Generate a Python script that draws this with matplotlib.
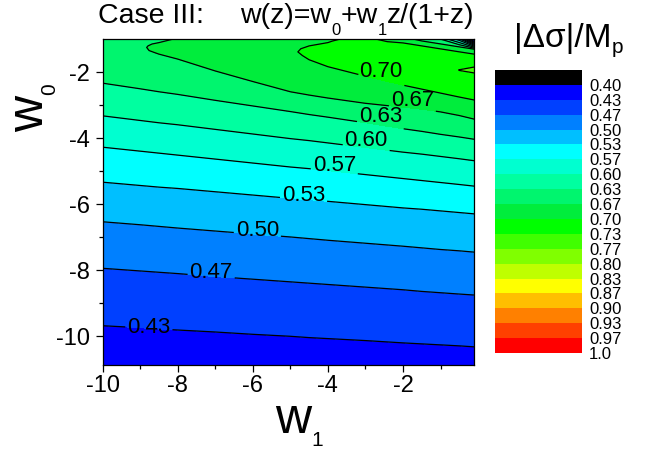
import numpy as np
import matplotlib
matplotlib.use('Agg')
from matplotlib import pyplot as plt

plt.rcParams['font.family'] = ['Liberation Sans', 'DejaVu Sans']
plt.rcParams['axes.unicode_minus'] = False

# contour levels, colour bar labels and band colours (first colour = below 0.40)
levels = [0.40, 0.4333, 0.4667, 0.50, 0.5333, 0.5667, 0.60, 0.6333, 0.6667, 0.70,
          0.7333, 0.7667, 0.80, 0.8333, 0.8667, 0.90, 0.9333, 0.9667, 1.0]
level_labels = ['0.40', '0.43', '0.47', '0.50', '0.53', '0.57', '0.60', '0.63', '0.67', '0.70',
                '0.73', '0.77', '0.80', '0.83', '0.87', '0.90', '0.93', '0.97', '1.0']
band_colors = ['#000000', '#0000ff', '#0040ff', '#0080ff', '#00bfff', '#00ffff', '#00ffd0',
               '#00ffa0', '#00f56e', '#00ed3c', '#00ff00', '#40ff00', '#80ff00', '#bfff00',
               '#ffff00', '#ffbf00', '#ff8000', '#ff4000', '#ff0000']

# w1 columns where the picture was read
w1_cols = [-10, -9, -8.5, -8, -7, -6, -5, -4.5, -4, -3, -2, -1.5, -1, -0.5, -0.1]

# w0 of the samples along every column (bottom edge, crossings of 0.43 ... 0.63,
# then the ridge area up to the top edge) and the value at each sample
w0_bottom = [-10.87] * 15
w0_c043 = [-9.68, -9.74, -9.78, -9.81, -9.87, -9.94, -10.00, -10.04, -10.07, -10.13, -10.20, -10.23, -10.26, -10.29, -10.32]
w0_c047 = [-7.94, -8.02, -8.06, -8.10, -8.19, -8.27, -8.35, -8.39, -8.43, -8.51, -8.59, -8.64, -8.68, -8.72, -8.75]
w0_c050 = [-6.53, -6.62, -6.67, -6.72, -6.81, -6.90, -6.99, -7.04, -7.09, -7.18, -7.27, -7.32, -7.37, -7.41, -7.45]
w0_c053 = [-5.33, -5.43, -5.48, -5.52, -5.62, -5.72, -5.82, -5.86, -5.91, -6.01, -6.11, -6.15, -6.20, -6.25, -6.29]
w0_c057 = [-4.27, -4.39, -4.45, -4.51, -4.63, -4.75, -4.87, -4.92, -4.98, -5.10, -5.22, -5.28, -5.34, -5.40, -5.45]
w0_c060 = [-3.32, -3.46, -3.53, -3.59, -3.73, -3.87, -4.01, -4.07, -4.14, -4.28, -4.42, -4.48, -4.55, -4.62, -4.68]
w0_c063 = [-2.33, -2.50, -2.59, -2.67, -2.85, -3.02, -3.19, -3.28, -3.36, -3.53, -3.71, -3.79, -3.88, -3.96, -4.03]
w0_r8 = [-1.55, -1.48, -1.45, -1.60, -1.96, -2.28, -2.59, -2.69, -2.78, -2.94, -3.06, -3.12, -3.20, -3.31, -3.42]
w0_r9 = [-1.45, -1.42, -1.38, -1.48, -1.65, -1.80, -1.62, -1.62, -1.83, -2.12, -2.39, -2.51, -2.63, -2.75, -2.84]
w0_r10 = [-1.35, -1.36, -1.32, -1.38, -1.45, -1.55, -1.48, -1.50, -1.62, -1.80, -2.00, -2.10, -2.20, -2.25, -2.02]
w0_r11 = [-1.20, -1.24, -1.26, -1.28, -1.31, -1.34, -1.37, -1.40, -1.45, -1.55, -1.70, -1.78, -1.85, -1.93, -1.93]
w0_r12 = [-1.15, -1.19, -1.21, -1.21, -1.22, -1.24, -1.27, -1.30, -1.30, -1.35, -1.40, -1.48, -1.55, -1.62, -1.84]
w0_r13 = [-1.10, -1.13, -1.15, -1.14, -1.14, -1.15, -1.18, -1.20, -1.10, -1.20, -1.11, -1.20, -1.29, -1.38, -1.45]
w0_r14 = [-1.05, -1.07, -1.10, -1.07, -1.07, -1.07, -1.09, -1.10, -1.05, -1.10, -1.05, -1.05, -1.14, -1.23, -1.30]
w0_top = [-1.0] * 15

z_bottom = [0.410, 0.412, 0.413, 0.414, 0.415, 0.416, 0.417, 0.417, 0.418, 0.419, 0.419, 0.420, 0.420, 0.421, 0.421]
z_r8 = [0.6565, 0.6630] + [0.6667] * 13
z_r9 = [0.6580, 0.6640, 0.6678, 0.6695, 0.6760, 0.6820, 0.6960, 0.7000, 0.7000, 0.7000, 0.7000, 0.7000, 0.7000, 0.7000, 0.7000]
z_r10 = [0.6590, 0.6650, 0.6686, 0.6715, 0.6800, 0.6880, 0.6982, 0.7010, 0.7035, 0.7090, 0.7155, 0.7195, 0.7235, 0.7290, 0.7333]
z_r11 = [0.6600, 0.6655, 0.6690, 0.6730, 0.6810, 0.6900, 0.6990, 0.7015, 0.7050, 0.7120, 0.7200, 0.7240, 0.7280, 0.7335, 0.7420]
z_r12 = [0.6598, 0.6652, 0.6688, 0.6725, 0.6805, 0.6895, 0.6985, 0.7012, 0.7045, 0.7105, 0.7130, 0.7160, 0.7200, 0.7250, 0.7333]
z_r13 = [0.6592, 0.6645, 0.6680, 0.6713, 0.6790, 0.6880, 0.6972, 0.7000, 0.7000, 0.7080, 0.7000, 0.7000, 0.7000, 0.7000, 0.7000]
z_r14 = [0.6583, 0.6638, 0.6667, 0.6695, 0.6770, 0.6860, 0.6950, 0.6978, 0.6993, 0.7055, 0.6960, 0.6667, 0.6667, 0.6667, 0.6667]
z_top = [0.6570, 0.6630, 0.6655, 0.6672, 0.6750, 0.6840, 0.6920, 0.6955, 0.6985, 0.7035, 0.6920, 0.6500, 0.6360, 0.5500, 0.3300]

# labelled contours: where the line is broken and where the text sits
label_levels = [0.4333, 0.4667, 0.50, 0.5333, 0.5667, 0.60, 0.6333, 0.6667, 0.70]
label_gap = [(-8.77, -9.76), (-7.11, -8.17), (-5.88, -6.91), (-4.65, -5.85), (-3.83, -5.0),
             (-2.98, -4.28), (-2.60, -3.58), (-1.75, -3.10), (-2.58, -2.25)]
label_text = [(-8.77, -9.72), (-7.11, -8.08), (-5.88, -6.80), (-4.65, -5.73), (-3.83, -4.83),
              (-2.98, -4.07), (-2.60, -3.35), (-1.75, -2.86), (-2.58, -1.97)]

W, H = 646, 450
fig = plt.figure(figsize=(W / 100, H / 100), dpi=100)
ax = fig.add_axes([102.7 / W, 1 - 365 / H, 371.6 / W, 325.7 / H])

Y = np.array([w0_bottom, w0_c043, w0_c047, w0_c050, w0_c053, w0_c057, w0_c060, w0_c063,
              w0_r8, w0_r9, w0_r10, w0_r11, w0_r12, w0_r13, w0_r14, w0_top])
Z = np.array([z_bottom] + [[lv] * 15 for lv in levels[1:8]] +
             [z_r8, z_r9, z_r10, z_r11, z_r12, z_r13, z_r14, z_top])
X = np.tile(w1_cols, (Y.shape[0], 1))

cs = ax.contourf(X, Y, Z, levels=[0.0] + levels, colors=band_colors)
plain_levels = [lv for lv in levels[:-1] if lv not in label_levels]
ax.contour(X, Y, Z, levels=plain_levels, colors='k', linewidths=0.9)
cl = ax.contour(X, Y, Z, levels=label_levels, colors='k', linewidths=0.9)
fmt = dict(zip(levels, level_labels))
ax.clabel(cl, manual=label_gap, fmt=fmt, fontsize=16, inline=True, inline_spacing=2)
for t, pos in zip(cl.labelTexts, label_text):
    t.set_rotation(0)
    t.set_position(pos)

ax.set_xlim(-10, -0.1)
ax.set_ylim(-10.87, -1.0)
ax.set_xticks([-10, -8, -6, -4, -2])
ax.set_xticks([-9, -7, -5, -3, -1], minor=True)
ax.set_yticks([-10, -8, -6, -4, -2])
ax.set_yticks([-9, -7, -5, -3], minor=True)
ax.tick_params(which='major', direction='out', length=5, width=0.9, labelsize=17)
ax.tick_params(which='minor', direction='out', length=3, width=0.9)
ax.tick_params(axis='x', pad=2.5)
ax.tick_params(axis='y', pad=4)
for sp in ax.spines.values():
    sp.set_linewidth(0.9)

# colour bar, low values on top
cax = fig.add_axes([495 / W, 1 - 353 / H, 87 / W, 283 / H])
cbar = fig.colorbar(cs, cax=cax, spacing='uniform', ticks=levels)
cax.invert_yaxis()
cbar.set_ticklabels(level_labels)
cbar.outline.set_visible(False)
cax.tick_params(length=0, labelsize=12, pad=5)

rend = fig.canvas.get_renderer()


def chain(x, y, pieces):
    # place text pieces one after another, x/y in pixels from the top left
    for s, fs, drop in pieces:
        t = fig.text(x / W, 1 - (y + drop) / H, s, fontsize=fs, ha='left', va='baseline')
        x = t.get_window_extent(rend).x1


chain(98, 23.3, [('Case III:', 20.5, 0)])
chain(240, 23.3, [('w(z)=w', 20.5, 0), ('0', 12, 11.5), ('+w', 20.5, 0), ('1', 12, 11.5),
                  ('z/(1+z)', 20.5, 0)])
chain(514, 46.7, [('|Δσ|/M', 24, 0), ('p', 15, 6)])

# axis titles
fig.text(275 / W, 1 - 433 / H, 'w', fontsize=36, ha='left', va='baseline')
fig.text(311 / W, 1 - 446 / H, '1', fontsize=15, ha='left', va='baseline')
fig.text(43 / W, 1 - 132 / H, 'w', fontsize=36, rotation=90, rotation_mode='anchor',
         ha='left', va='baseline')
fig.text(55 / W, 1 - 95 / H, '0', fontsize=15, rotation=90, rotation_mode='anchor',
         ha='left', va='baseline')

fig.savefig('out.png', dpi=100)
